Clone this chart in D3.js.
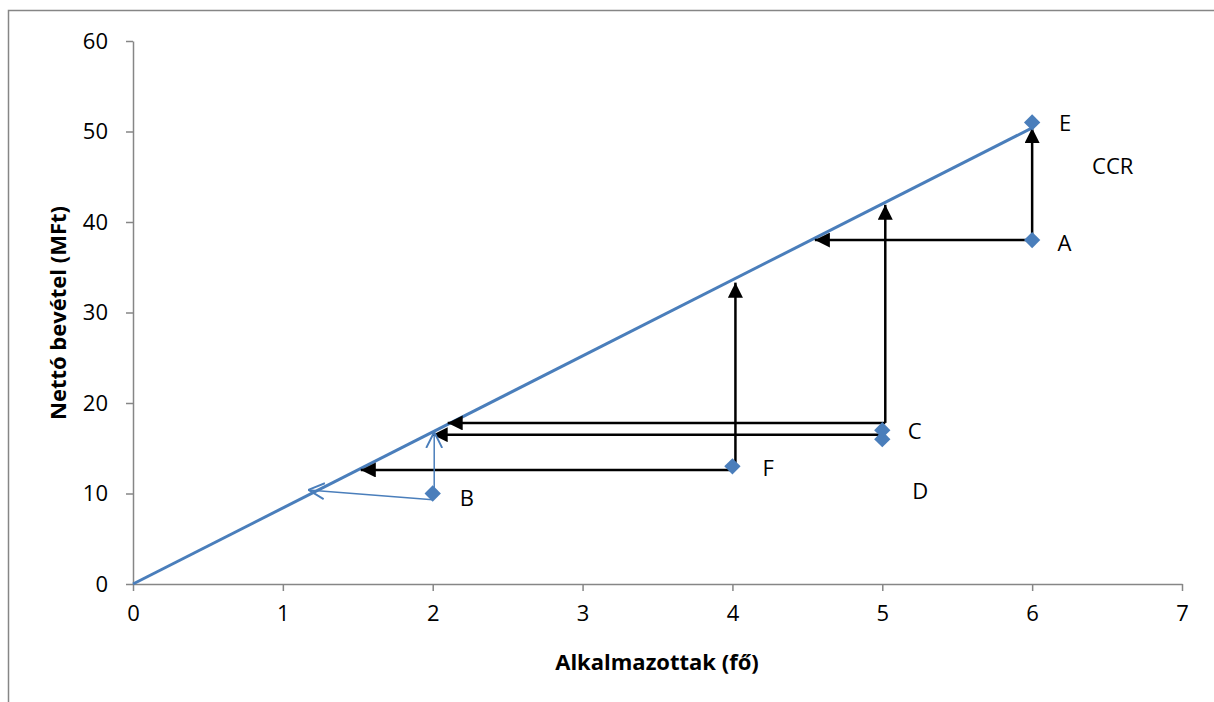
<!DOCTYPE html>
<html>
<head>
<meta charset="utf-8">
<script src="https://cdn.jsdelivr.net/npm/d3@7"></script>
<style>
  body { margin: 0; background: #fff; }
  svg { display: block; font-family: "Open Sans", "Liberation Sans", sans-serif; }
</style>
</head>
<body>
<div id="chart"></div>
<script>
// data points (employees, net revenue)
var pointNames = ["B", "F", "D", "C", "A", "E"];
var pointX = [2, 4, 5, 5, 6, 6];
var pointY = [10, 13, 16, 17, 38, 51];

// efficient frontier (CCR)
var frontierX = [0, 6];
var frontierY = [0, 50.4];

// black projection arrows: [x1, y1, x2, y2]
var blackArrows = [
  [6, 38, 4.55, 38],
  [6, 38, 6, 50.4],
  [5.02, 17.8, 5.02, 41.9],
  [5.02, 17.8, 2.1, 17.8],
  [5, 16.5, 2.0, 16.5],
  [4.02, 13, 4.02, 33.3],
  [4, 12.6, 1.52, 12.6]
];
// blue arrows from B
var blueArrows = [
  [2, 9.3, 1.17, 10.4],
  [2.01, 9.8, 2.01, 16.8]
];

// point labels placed next to markers (left edge, vertical centre)
var labelNames = ["E", "CCR", "A", "C", "D", "F", "B"];
var labelX = [6.18, 6.4, 6.17, 5.17, 5.2, 4.2, 2.18];
var labelY = [50.9, 46.1, 37.7, 16.9, 10.2, 12.8, 9.5];

var xTicks = [0, 1, 2, 3, 4, 5, 6, 7];
var yTicks = [0, 10, 20, 30, 40, 50, 60];

var W = 1214, H = 702;
var svg = d3.select("#chart").append("svg")
  .attr("width", W).attr("height", H);

// outer frame (top and left visible)
svg.append("path")
  .attr("d", "M8.5," + H + "V10.5H" + W)
  .attr("fill", "none")
  .attr("stroke", "#868686")
  .attr("stroke-width", 1.5);

var x = d3.scaleLinear().domain([0, 7]).range([133, 1182]);
var y = d3.scaleLinear().domain([0, 60]).range([584, 41]);

var axisColor = "#868686";
var fontSize = "22px";

// y axis
var gy = svg.append("g")
  .attr("transform", "translate(133,0)")
  .call(d3.axisLeft(y).tickValues(yTicks).tickFormat(d3.format("d"))
    .tickSize(7).tickSizeOuter(0).tickPadding(18));
// x axis
var gx = svg.append("g")
  .attr("transform", "translate(0,584)")
  .call(d3.axisBottom(x).tickValues(xTicks).tickFormat(d3.format("d"))
    .tickSize(7).tickSizeOuter(0).tickPadding(14));

[gx, gy].forEach(function(g) {
  g.select(".domain").attr("stroke", axisColor).attr("stroke-width", 1.5);
  g.selectAll(".tick line").attr("stroke", axisColor).attr("stroke-width", 1.5);
  g.selectAll(".tick text")
    .attr("fill", "#000")
    .style("font-size", fontSize)
    .style("font-family", "'Open Sans', 'Liberation Sans', sans-serif");
});

// axis titles
svg.append("text")
  .attr("x", 657).attr("y", 662)
  .attr("dy", "0.35em")
  .attr("text-anchor", "middle")
  .style("font-size", fontSize)
  .style("font-weight", "bold")
  .text("Alkalmazottak (fő)");
svg.append("text")
  .attr("transform", "translate(58,313)rotate(-90)")
  .attr("dy", "0.35em")
  .attr("text-anchor", "middle")
  .style("font-size", fontSize)
  .style("font-weight", "bold")
  .text("Nettó bevétel (MFt)");

// arrowhead markers
var defs = svg.append("defs");
defs.append("marker")
  .attr("id", "headBlack")
  .attr("viewBox", "0 0 10 10")
  .attr("refX", 10).attr("refY", 5)
  .attr("markerUnits", "userSpaceOnUse")
  .attr("markerWidth", 17).attr("markerHeight", 15)
  .attr("orient", "auto")
  .append("path")
  .attr("d", "M0,0L10,5L0,10Z")
  .attr("fill", "#000");
defs.append("marker")
  .attr("id", "headBlue")
  .attr("viewBox", "0 0 10 10")
  .attr("refX", 10).attr("refY", 5)
  .attr("markerUnits", "userSpaceOnUse")
  .attr("markerWidth", 16).attr("markerHeight", 18)
  .attr("orient", "auto")
  .append("path")
  .attr("d", "M0,0L10,5L0,10")
  .attr("fill", "none")
  .attr("stroke", "#4a7ebb")
  .attr("stroke-width", 1.2);

var blue = "#4a7ebb";

// frontier line
svg.append("line")
  .attr("x1", x(frontierX[0])).attr("y1", y(frontierY[0]))
  .attr("x2", x(frontierX[1])).attr("y2", y(frontierY[1]))
  .attr("stroke", blue)
  .attr("stroke-width", 3);

// black arrows
svg.selectAll(".barrow")
  .data(blackArrows)
  .enter()
  .append("line")
    .attr("class", "barrow")
    .attr("x1", function(d) { return x(d[0]); })
    .attr("y1", function(d) { return y(d[1]); })
    .attr("x2", function(d) { return x(d[2]); })
    .attr("y2", function(d) { return y(d[3]); })
    .attr("stroke", "#000")
    .attr("stroke-width", 2.5)
    .attr("marker-end", "url(#headBlack)");

// blue arrows
svg.selectAll(".blarrow")
  .data(blueArrows)
  .enter()
  .append("line")
    .attr("class", "blarrow")
    .attr("x1", function(d) { return x(d[0]); })
    .attr("y1", function(d) { return y(d[1]); })
    .attr("x2", function(d) { return x(d[2]); })
    .attr("y2", function(d) { return y(d[3]); })
    .attr("stroke", blue)
    .attr("stroke-width", 1.5)
    .attr("marker-end", "url(#headBlue)");

// diamonds
svg.selectAll(".pt")
  .data(pointNames)
  .enter()
  .append("path")
    .attr("class", "pt")
    .attr("d", d3.symbol().type(d3.symbolDiamond2).size(170))
    .attr("transform", function(d, i) { return "translate(" + x(pointX[i]) + "," + y(pointY[i]) + ")"; })
    .attr("fill", blue);

// labels
svg.selectAll(".lbl")
  .data(labelNames)
  .enter()
  .append("text")
    .attr("class", "lbl")
    .attr("x", function(d, i) { return x(labelX[i]); })
    .attr("y", function(d, i) { return y(labelY[i]); })
    .attr("dy", "0.35em")
    .style("font-size", fontSize)
    .text(function(d) { return d; });
</script>
</body>
</html>
